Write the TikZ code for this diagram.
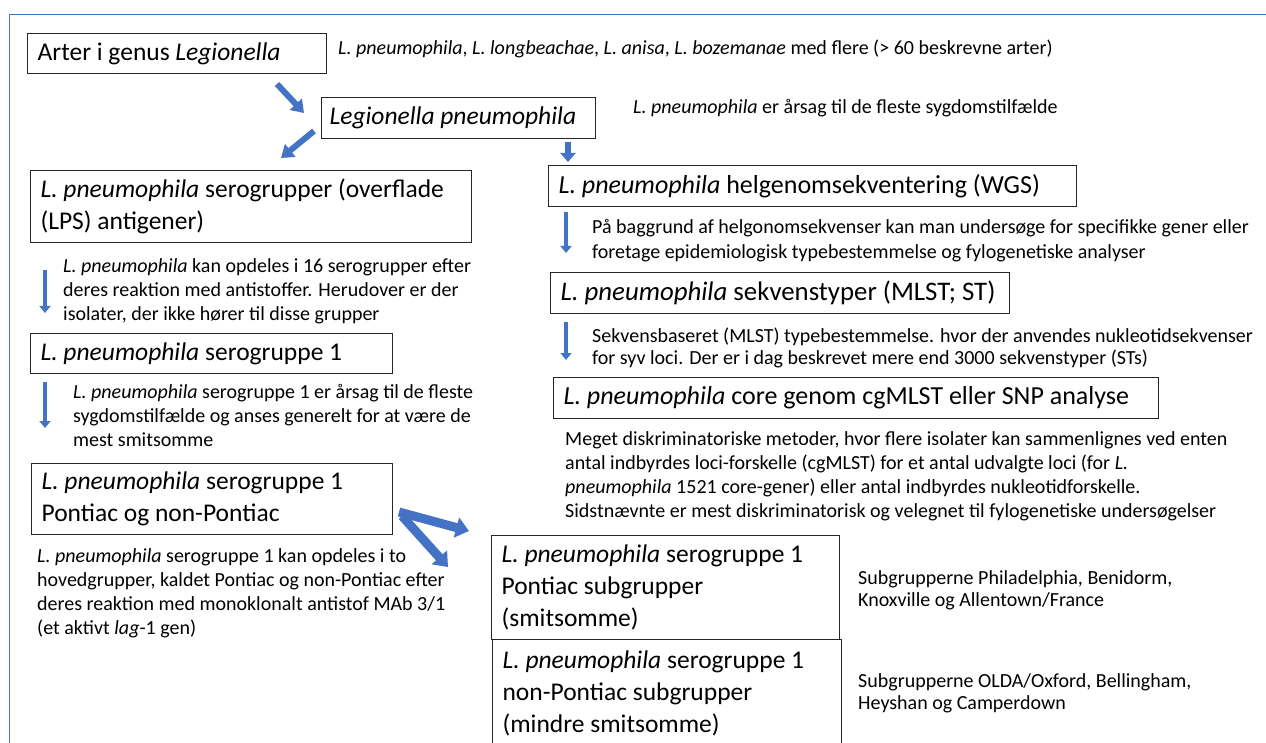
\documentclass[tikz,border=0pt]{standalone}
\usepackage{fontspec}
\setmainfont{Carlito}
\usetikzlibrary{arrows.meta}
\definecolor{ablue}{HTML}{4472C4}
\definecolor{boxline}{HTML}{262626}
\newcommand{\Lp}{\textit{L. pneumophila}}
\begin{document}
\begin{tikzpicture}[x=1pt,y=-1pt,
  box/.style={draw=boxline, line width=1.2pt, anchor=north west, inner xsep=10pt, inner ysep=0pt,
    align=flush left, font=\fontsize{25.5}{32}\selectfont},
  note/.style={anchor=base west, inner sep=0pt, align=flush left, font=\fontsize{20}{24}\selectfont},
  bigarrow/.style={draw=ablue, line width=6pt, -{Triangle[width=16pt,length=12pt]}},
  midarrow/.style={draw=ablue, line width=6pt, -{Triangle[width=15pt,length=9pt]}},
  thinarrow/.style={draw=ablue, line width=4pt, -{Triangle[width=11pt,length=7pt]}},
  fatarrow/.style={draw=ablue, line width=9pt, -{Triangle[width=20pt,length=13pt]}}
]
\useasboundingbox (0,0) rectangle (1266,743);
\clip (0,0) rectangle (1266,743);
\fill[white] (0,0) rectangle (1266,743);
% frame
\draw[ablue, line width=1.6pt] (9.5,760) -- (9.5,14.5) -- (1270,14.5);

% boxes
\node[box, text width=279, minimum height=40] (b1) at (27,33) {Arter i genus \textit{Legionella}};
\node[box, inner xsep=8pt, text width=258, minimum height=41] (b2) at (321,97) {\textit{Legionella pneumophila}};
\node[box, text width=421, minimum height=72] (b3) at (30,170) {\Lp{} serogrupper (overflade\\(LPS) antigener)};
\node[box, font=\fontsize{26}{32}\selectfont, text width=508, minimum height=41] (b4) at (548,165) {\Lp{} helgenomsekventering (WGS)};
\node[box, font=\fontsize{26.8}{32}\selectfont, text width=439, minimum height=41] (b5) at (550,272) {\Lp{} sekvenstyper (MLST; ST)};
\node[box, font=\fontsize{26}{32}\selectfont, text width=585, minimum height=41] (b6) at (553,377) {\Lp{} core genom cgMLST eller SNP analyse};
\node[box, text width=342, minimum height=40] (b7) at (30,333) {\Lp{} serogruppe 1};
\node[box, text width=341, minimum height=71] (b8) at (31,463) {\Lp{} serogruppe 1\\Pontiac og non-Pontiac};
\node[box, text width=328, minimum height=104] (b9) at (491,535) {\Lp{} serogruppe 1\\Pontiac subgrupper\\(smitsomme)};
\node[box, text width=329, minimum height=107] (b10) at (492,639) {\Lp{} serogruppe 1\\non-Pontiac subgrupper\\(mindre smitsomme)};

% notes (y = baseline of last line)
\node[note] (t1) at (338,55) {\Lp, \textit{L. longbeachae}, \textit{L. anisa}, \textit{L. bozemanae} med flere (> 60 beskrevne arter)};
\node[note] (t2) at (633,114) {\Lp{} er årsag til de fleste sygdomstilfælde};
\node[note] (t3) at (63,320) {\Lp{} kan opdeles i 16 serogrupper efter\\deres reaktion med antistoffer. Herudover er der\\isolater, der ikke hører til disse grupper};
\node[note] (t4) at (73,446) {\Lp{} serogruppe 1 er årsag til de fleste\\sygdomstilfælde og anses generelt for at være de\\mest smitsomme};
\node[note, font=\fontsize{20}{23.7}\selectfont] (t5) at (37,634) {\Lp{} serogruppe 1 kan opdeles i to\\hovedgrupper, kaldet Pontiac og non-Pontiac efter\\deres reaktion med monoklonalt antistof MAb 3/1\\(et aktivt \textit{lag}-1 gen)};
\node[note, font=\fontsize{20}{25}\selectfont] (t6) at (592,259) {På baggrund af helgonomsekvenser kan man undersøge for specifikke gener eller\\foretage epidemiologisk typebestemmelse og fylogenetiske analyser};
\node[note, font=\fontsize{20}{22}\selectfont] (t7) at (592,364) {Sekvensbaseret (MLST) typebestemmelse. hvor der anvendes nukleotidsekvenser\\for syv loci. Der er i dag beskrevet mere end 3000 sekvenstyper (STs)};
\node[note] (t8) at (565,517) {Meget diskriminatoriske metoder, hvor flere isolater kan sammenlignes ved enten\\antal indbyrdes loci-forskelle (cgMLST) for et antal udvalgte loci (for \textit{L.}\\\textit{pneumophila} 1521 core-gener) eller antal indbyrdes nukleotidforskelle.\\Sidstnævnte er mest diskriminatorisk og velegnet til fylogenetiske undersøgelser};
\node[note, font=\fontsize{20}{22.5}\selectfont] (t9) at (858,606.5) {Subgrupperne Philadelphia, Benidorm,\\Knoxville og Allentown/France};
\node[note, font=\fontsize{20}{22.5}\selectfont] (t10) at (858,709.5) {Subgrupperne OLDA/Oxford, Bellingham,\\Heyshan og Camperdown};

% arrow end points
\coordinate (a1s) at (277,84);  \coordinate (a1e) at (304,113);
\coordinate (a2s) at (314,131); \coordinate (a2e) at (281,158);
\coordinate (a3s) at (568,142); \coordinate (a3e) at (568,162);
\coordinate (a4s) at (45,270);  \coordinate (a4e) at (45,313);
\coordinate (a5s) at (45,382);  \coordinate (a5e) at (45,428);
\coordinate (a6s) at (566,212); \coordinate (a6e) at (566,253);
\coordinate (a7s) at (566,322); \coordinate (a7e) at (566,360);
\coordinate (a8s) at (399,512); \coordinate (a8e) at (469,531);
\coordinate (a9s) at (402,516); \coordinate (a9e) at (448,567);

\draw[bigarrow] (a1s) -- (a1e);
\draw[bigarrow] (a2s) -- (a2e);
\draw[midarrow] (a3s) -- (a3e);
\draw[thinarrow] (a4s) -- (a4e);
\draw[thinarrow] (a5s) -- (a5e);
\draw[thinarrow] (a6s) -- (a6e);
\draw[thinarrow] (a7s) -- (a7e);
\draw[fatarrow] (a8s) -- (a8e);
\draw[fatarrow] (a9s) -- (a9e);
\end{tikzpicture}
\end{document}
